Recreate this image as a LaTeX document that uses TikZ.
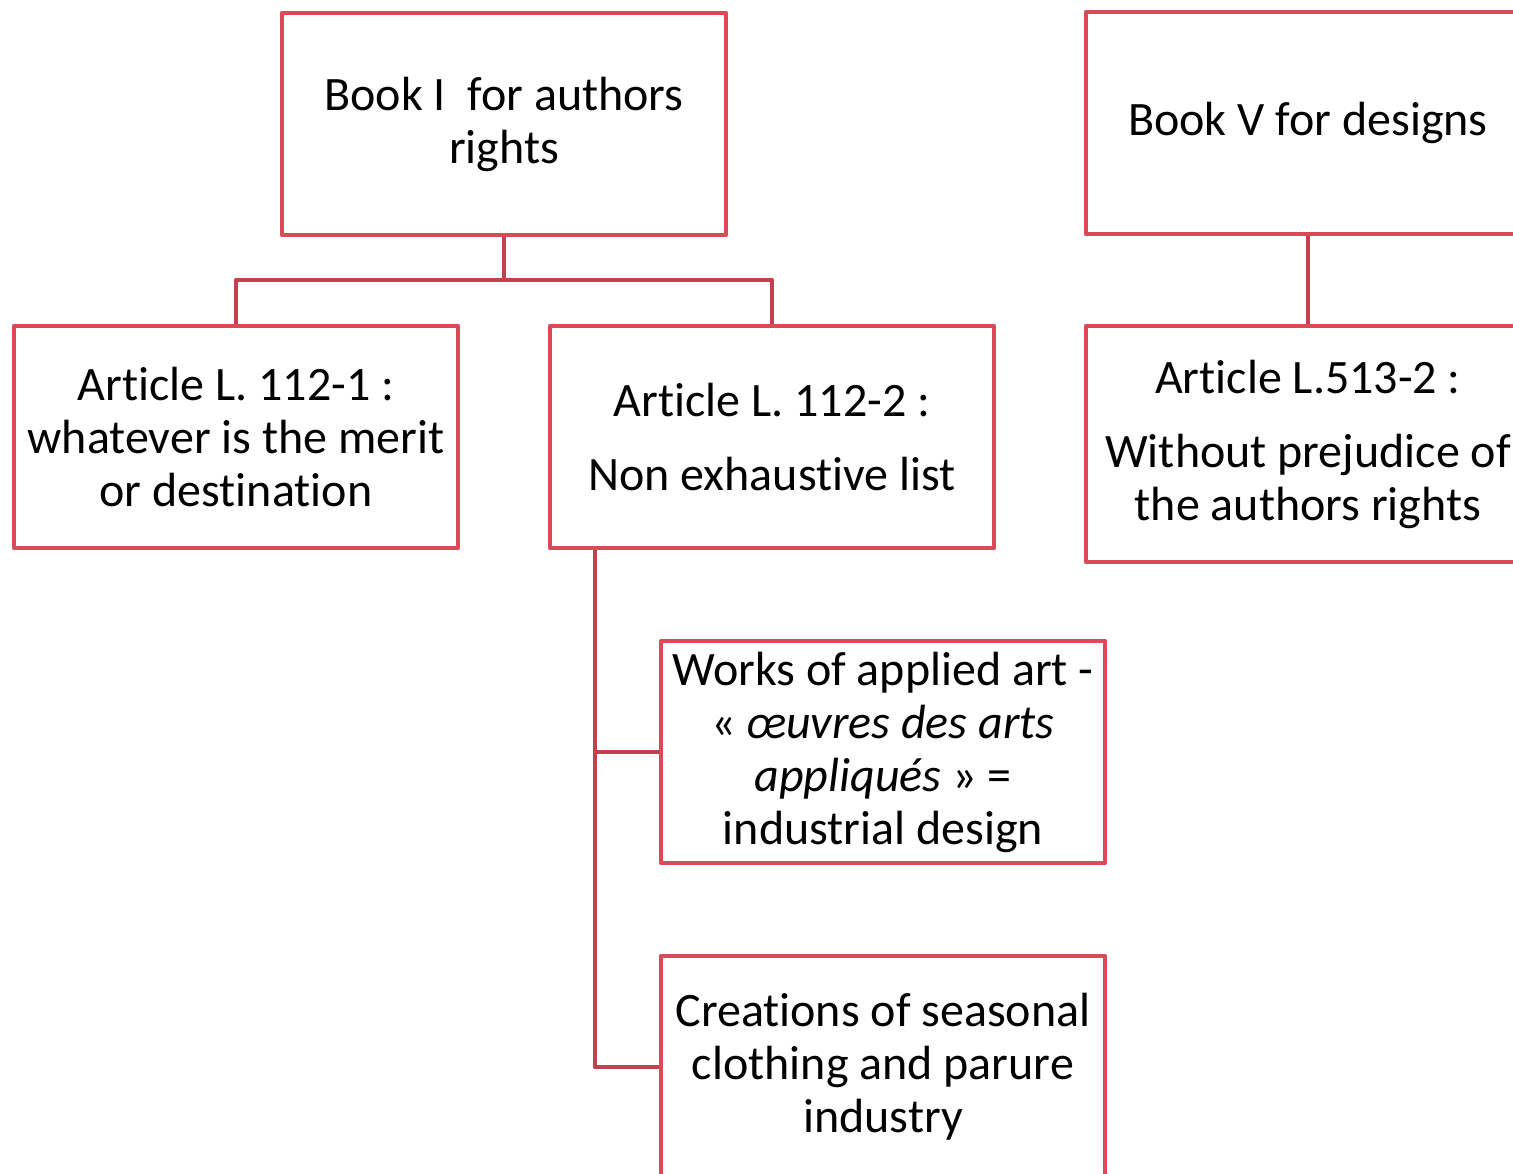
\documentclass[tikz,border=0pt]{standalone}
\usepackage{fontspec}
\setmainfont{Carlito}[Ligatures={NoCommon}]
\definecolor{boxred}{HTML}{DA4B5A}
\definecolor{linered}{HTML}{C5404E}
\begin{document}
\begin{tikzpicture}[x=0.5pt,y=-0.5pt,
  box/.style={draw=boxred,line width=2.2pt,line join=round,minimum width=222pt,minimum height=111pt,
    align=center,inner sep=0pt,text=black,font=\fontsize{24}{26.5}\selectfont},
  conn/.style={draw=linered,line width=2.2pt,line join=round}]
\useasboundingbox (0,0) rectangle (1513,1173);
\clip (0,0) rectangle (1513,1173);
\node[box] (b1) at (504,124) {Book I\ \ for authors\\rights};
\node[box] (b5) at (1308,123) {Book V for designs};
\node[box] (a1) at (236,437) {Article L. 112-1 :\\whatever is the merit\\or destination};
\node[box] (a2) at (772,437) {Article L. 112-2 :\\[10.5pt]Non exhaustive list};
\node[box,minimum height=118pt] (a3) at (1308,444) {Article L.513-2 :\\[10.5pt]Without prejudice of\\the authors rights};
\node[box] (w) at (883,752) {Works of applied art -\\« \textit{œuvres des arts}\\\textit{appliqués} » =\\industrial design};
\node[box] (c) at (883,1067) {Creations of seasonal\\clothing and parure\\industry};
\draw[conn] (b1.south) -- ++(0,43) -| (a1.north);
\draw[conn] (b1.south) ++(0,43) -| (a2.north);
\draw[conn] (b5.south) -- (a3.north);
\draw[conn] ([xshift=23.5pt]a2.south west) |- (w.west);
\draw[conn] ([xshift=23.5pt]a2.south west) |- (c.west);
\end{tikzpicture}
\end{document}
